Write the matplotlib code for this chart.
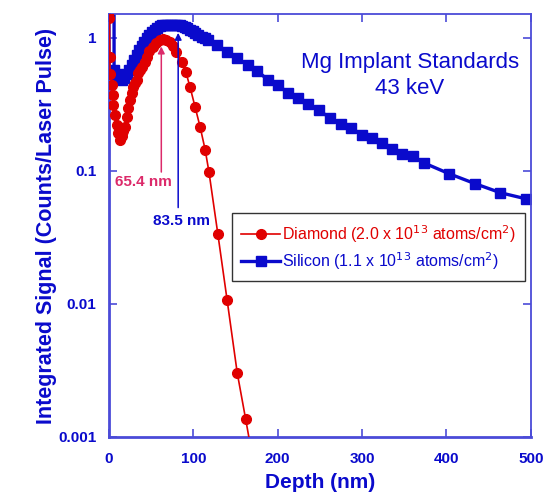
import matplotlib
matplotlib.use("Agg")
import matplotlib.pyplot as plt
from matplotlib.ticker import FixedLocator, FixedFormatter, NullLocator

plt.rcParams['font.family'] = ['Liberation Sans', 'DejaVu Sans']

# ---- data ----
diamond_depth = [0, 0.5, 1, 1.2, 3.5, 4.5, 5, 7, 9.5, 11, 13, 15, 17, 19, 21, 22.5, 25,
                 27, 28.5, 31, 33, 34.5, 37, 39, 42.5, 45, 48, 52, 56, 60, 64, 68, 72,
                 76, 80, 86.5, 91, 96, 102, 108, 114, 118.5, 129, 140, 152, 162, 172]
diamond_signal = [1.6, 1.4, 0.72, 0.536, 0.443, 0.373, 0.314, 0.264, 0.222, 0.193, 0.171,
                  0.183, 0.200, 0.214, 0.255, 0.298, 0.342, 0.386, 0.428, 0.455, 0.483,
                  0.545, 0.575, 0.605, 0.66, 0.72, 0.79, 0.86, 0.92, 0.96, 0.98, 0.97,
                  0.93, 0.87, 0.78, 0.66, 0.555, 0.428, 0.303, 0.214, 0.144, 0.098,
                  0.0336, 0.0107, 0.00303, 0.00136, 0.0006]

silicon_depth = [6, 6, 9, 12, 15, 18, 21, 24, 27, 30, 33, 36, 39, 42, 45, 48, 51, 54, 57,
                 60, 63, 66, 69, 72, 75, 78, 81, 84, 87, 90, 93, 96, 99, 102, 106, 110,
                 114, 117, 128, 140, 152, 165, 176, 188, 200, 212, 224, 236, 249, 262,
                 275, 287, 300, 312, 323, 335, 347, 360, 373, 403, 434, 464, 494]
silicon_signal = [3.0, 0.575, 0.536, 0.50, 0.483, 0.50, 0.536, 0.575, 0.627, 0.687, 0.745,
                  0.81, 0.87, 0.933, 1.0, 1.053, 1.11, 1.15, 1.19, 1.22, 1.24, 1.25, 1.25,
                  1.25, 1.25, 1.25, 1.25, 1.24, 1.23, 1.21, 1.18, 1.15, 1.12, 1.09, 1.05,
                  1.02, 0.99, 0.966, 0.886, 0.78, 0.707, 0.62, 0.565, 0.483, 0.443, 0.386,
                  0.350, 0.318, 0.285, 0.250, 0.226, 0.211, 0.186, 0.177, 0.162, 0.146,
                  0.134, 0.130, 0.115, 0.0953, 0.0801, 0.0685, 0.0617]

x_ticks = [0, 100, 200, 300, 400, 500]
y_ticks = [0.001, 0.01, 0.1, 1]
y_tick_labels = ["0.001", "0.01", "0.1", "1"]

diamond_label = r"Diamond (2.0 x 10$^{13}$ atoms/cm$^{2}$)"
silicon_label = r"Silicon (1.1 x 10$^{13}$ atoms/cm$^{2}$)"
diamond_peak = (65.4, "65.4 nm")
silicon_peak = (83.5, "83.5 nm")

# ---- styling ----
BLUE = "#0a0acc"
FRAME = "#4b4bd8"
RED = "#e00000"
PINK = "#dc2a6a"

fig = plt.figure(figsize=(5.45, 4.95), dpi=100)
ax = fig.add_axes([0.2, 0.1172, 0.774, 0.8545])

ax.plot(diamond_depth, diamond_signal, color=RED, lw=1.2, marker="o", ms=7,
        mec=RED, mfc=RED, label=diamond_label, zorder=3)
ax.plot(silicon_depth, silicon_signal, color=BLUE, lw=2.4, marker="s", ms=7.5,
        mec=BLUE, mfc=BLUE, label=silicon_label, zorder=2)

ax.set_yscale("log")
ax.set_xlim(0, 500)
ax.set_ylim(0.001, 1.51)

ax.xaxis.set_major_locator(FixedLocator(x_ticks))
ax.xaxis.set_minor_locator(NullLocator())
ax.yaxis.set_major_locator(FixedLocator(y_ticks))
ax.yaxis.set_major_formatter(FixedFormatter(y_tick_labels))
ax.yaxis.set_minor_locator(NullLocator())

ax.tick_params(which="major", direction="in", length=6, width=1.2, color=FRAME,
               top=True, right=True, labelcolor=BLUE, labelsize=11)
ax.tick_params(axis="x", pad=11)
ax.tick_params(axis="y", pad=9)
for lab in ax.get_xticklabels() + ax.get_yticklabels():
    lab.set_fontweight("bold")

for side in ["left", "bottom"]:
    ax.spines[side].set_color(FRAME)
    ax.spines[side].set_linewidth(2.0)
for side in ["top", "right"]:
    ax.spines[side].set_color(FRAME)
    ax.spines[side].set_linewidth(1.3)

ax.set_xlabel("Depth (nm)", color=BLUE, fontsize=15, fontweight="bold", labelpad=5)
ax.set_ylabel("Integrated Signal (Counts/Laser Pulse)", color=BLUE, fontsize=15.5,
              fontweight="bold", labelpad=1)

# title text inside plot
ax.text(0.713, 0.855, "Mg Implant Standards\n43 keV", transform=ax.transAxes,
        ha="center", va="center", color=BLUE, fontsize=16, linespacing=1.3)

# peak annotations
ax.annotate("", xy=(62, 0.86), xytext=(62, 0.098),
            arrowprops=dict(arrowstyle="-|>", color=PINK, lw=1.1,
                            mutation_scale=10, shrinkA=0, shrinkB=0))
ax.text(41, 0.083, diamond_peak[1], color=PINK, fontsize=11, fontweight="bold",
        ha="center", va="center")
ax.annotate("", xy=(82, 1.09), xytext=(82, 0.053),
            arrowprops=dict(arrowstyle="-|>", color=BLUE, lw=1.1,
                            mutation_scale=10, shrinkA=0, shrinkB=0))
ax.text(86, 0.042, silicon_peak[1], color=BLUE, fontsize=11, fontweight="bold",
        ha="center", va="center")

leg = ax.legend(loc="upper left", bbox_to_anchor=(0.291, 0.529), frameon=True,
                fancybox=False, edgecolor="black", fontsize=11.5, handlelength=2.4,
                borderpad=0.6, labelspacing=0.35, handletextpad=0.15,
                borderaxespad=0)
leg.get_frame().set_linewidth(1.0)
for txt, col in zip(leg.get_texts(), [RED, BLUE]):
    txt.set_color(col)

fig.savefig("out.png", dpi=100)
